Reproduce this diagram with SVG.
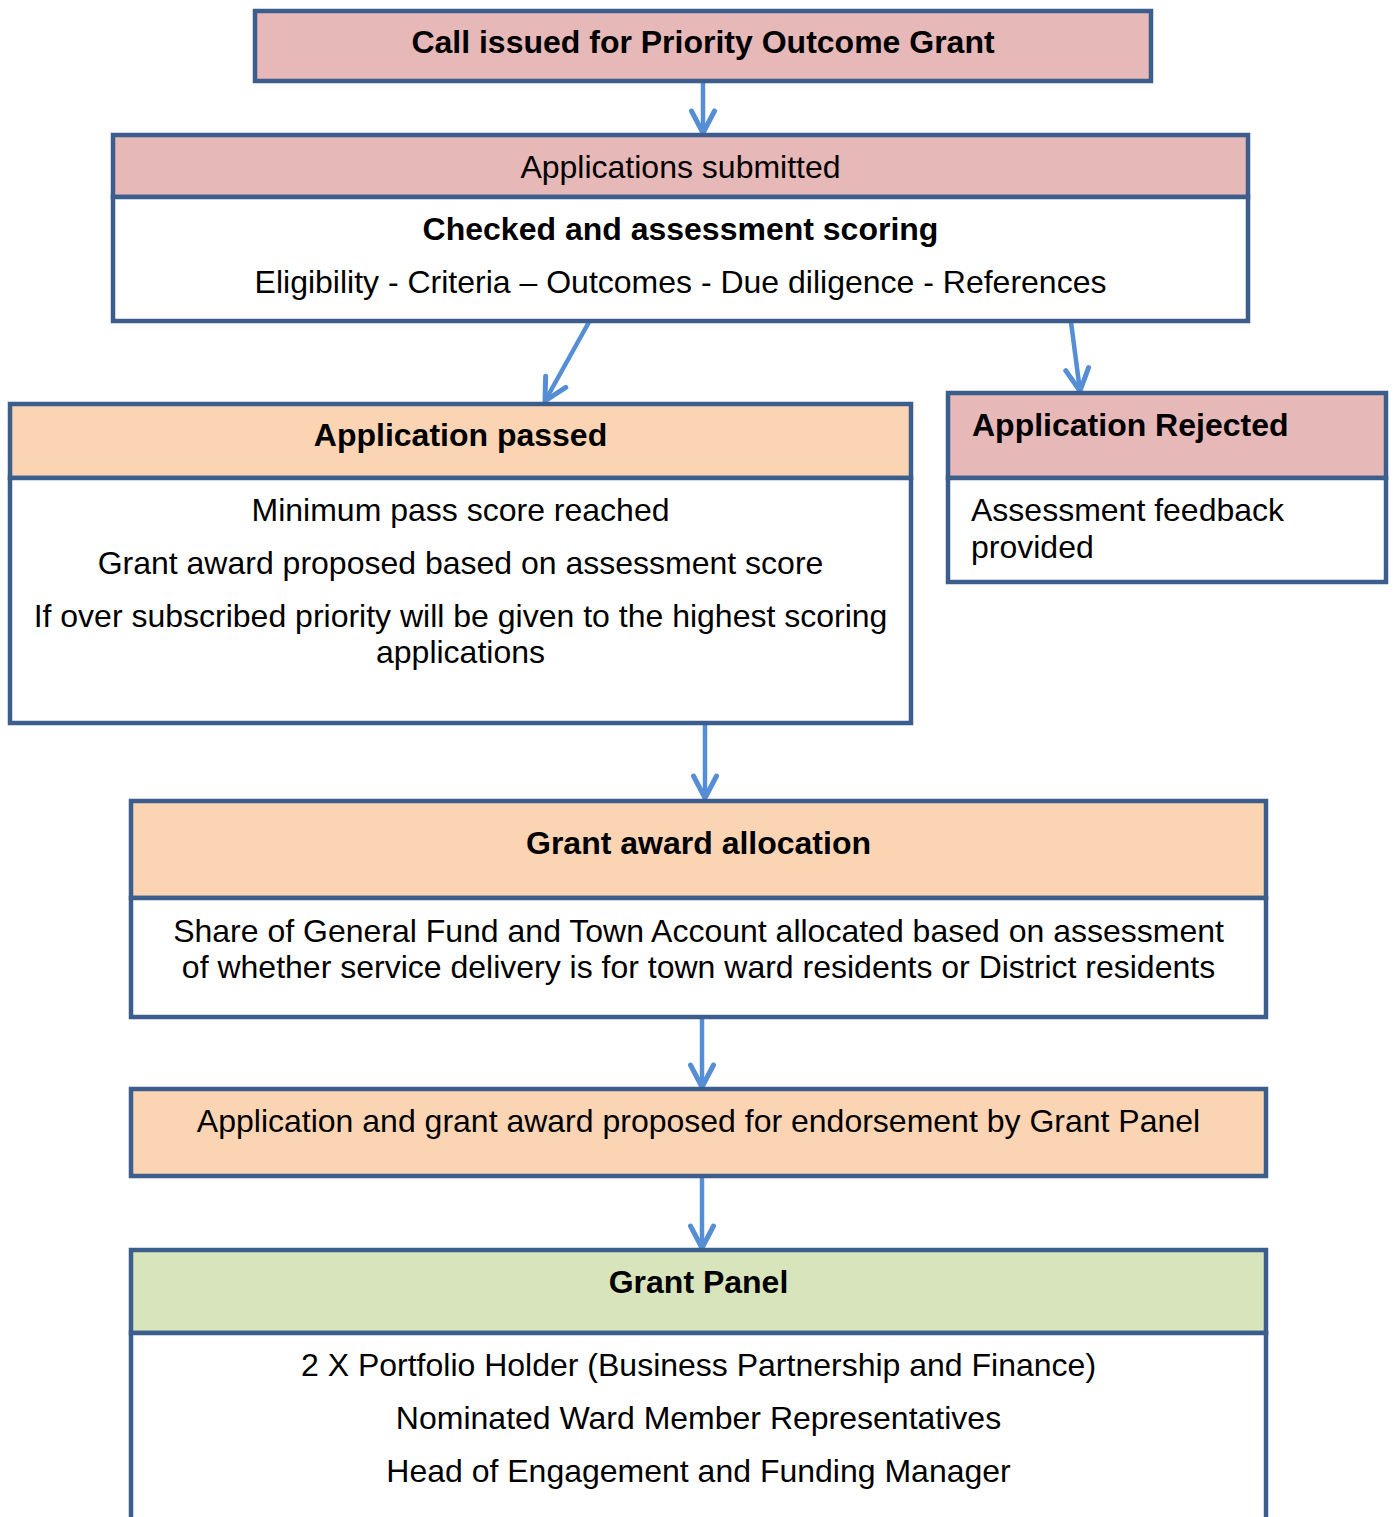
<svg xmlns="http://www.w3.org/2000/svg" width="1395" height="1517" viewBox="0 0 1395 1517">
<style>
.b{stroke:#3b5e8c;stroke-width:4.5}
.pk{fill:#e6b8b7}
.or{fill:#fbd4b4}
.gr{fill:#d8e4bc}
.wh{fill:#ffffff}
text{font-family:"Liberation Sans",Arial,sans-serif;font-size:32px;fill:#000}
.bd{font-weight:bold}
.c{text-anchor:middle}
.cn{stroke:#558ed5;stroke-width:4.5;fill:none}
</style>
<defs>
<marker id="ah" markerUnits="userSpaceOnUse" markerWidth="50" markerHeight="50" viewBox="-30 -25 50 50" refX="0" refY="0" orient="auto" overflow="visible">
<path d="M-22,-11.5 L0,0 L-22,11.5" fill="none" stroke="#558ed5" stroke-width="5" stroke-linecap="round" stroke-linejoin="round"/>
</marker>
</defs>
<rect width="1395" height="1517" fill="#fff"/>
<g id="connectors">
<line class="cn" x1="703" y1="81" x2="703" y2="133" marker-end="url(#ah)"/>
<line class="cn" x1="589" y1="322" x2="545" y2="401" marker-end="url(#ah)"/>
<line class="cn" x1="1071" y1="322" x2="1080" y2="391" marker-end="url(#ah)"/>
<line class="cn" x1="705" y1="723" x2="705" y2="798" marker-end="url(#ah)"/>
<line class="cn" x1="702" y1="1018" x2="702" y2="1087" marker-end="url(#ah)"/>
<line class="cn" x1="702" y1="1177" x2="702" y2="1248" marker-end="url(#ah)"/>
</g>
<g id="call">
<rect class="b pk" x="255" y="11" width="896" height="70"/>
<text class="bd c" x="703" y="53">Call issued for Priority Outcome Grant</text>
</g>
<g id="submitted">
<rect class="b pk" x="113" y="135" width="1135" height="62"/>
<rect class="b wh" x="113" y="197" width="1135" height="124"/>
<text class="c" x="680.5" y="178">Applications submitted</text>
<text class="bd c" x="680.5" y="240">Checked and assessment scoring</text>
<text class="c" x="680.5" y="293">Eligibility - Criteria – Outcomes - Due diligence - References</text>
</g>
<g id="passed">
<rect class="b or" x="10" y="404" width="901" height="74"/>
<rect class="b wh" x="10" y="478" width="901" height="245"/>
<text class="bd c" x="460.5" y="446">Application passed</text>
<text class="c" x="460.5" y="521">Minimum pass score reached</text>
<text class="c" x="460.5" y="574">Grant award proposed based on assessment score</text>
<text class="c" x="460.5" y="627">If over subscribed priority will be given to the highest scoring</text>
<text class="c" x="460.5" y="663">applications</text>
</g>
<g id="rejected">
<rect class="b pk" x="948" y="393" width="438" height="85"/>
<rect class="b wh" x="948" y="478" width="438" height="104"/>
<text class="bd" x="972" y="436">Application Rejected</text>
<text x="971" y="521">Assessment feedback</text>
<text x="971" y="558">provided</text>
</g>
<g id="allocation">
<rect class="b or" x="131" y="801" width="1135" height="97"/>
<rect class="b wh" x="131" y="898" width="1135" height="119"/>
<text class="bd c" x="698.5" y="854">Grant award allocation</text>
<text class="c" x="698.5" y="942">Share of General Fund and Town Account allocated based on assessment</text>
<text class="c" x="698.5" y="978">of whether service delivery is for town ward residents or District residents</text>
</g>
<g id="endorsement">
<rect class="b or" x="131" y="1089" width="1135" height="87"/>
<text class="c" x="698.5" y="1132">Application and grant award proposed for endorsement by Grant Panel</text>
</g>
<g id="panel">
<rect class="b gr" x="131" y="1250" width="1135" height="83"/>
<rect class="b wh" x="131" y="1333" width="1135" height="220"/>
<text class="bd c" x="698.5" y="1293">Grant Panel</text>
<text class="c" x="698.5" y="1376">2 X Portfolio Holder (Business Partnership and Finance)</text>
<text class="c" x="698.5" y="1429">Nominated Ward Member Representatives</text>
<text class="c" x="698.5" y="1482">Head of Engagement and Funding Manager</text>
</g>
</svg>
